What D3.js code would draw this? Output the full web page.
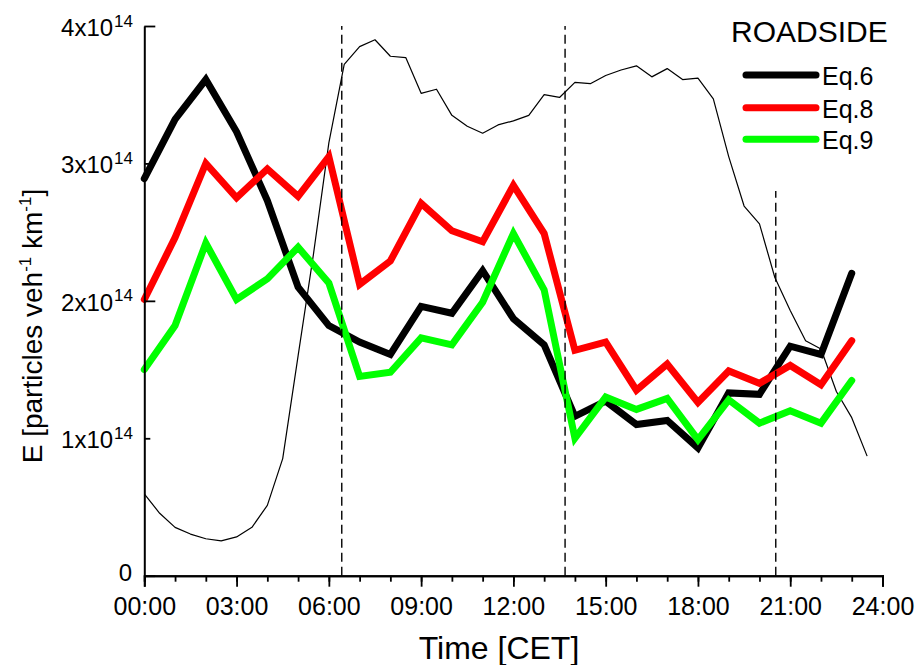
<!DOCTYPE html>
<html>
<head>
<meta charset="utf-8">
<script src="https://cdn.jsdelivr.net/npm/d3@7"></script>
<style>
  html, body { margin: 0; padding: 0; background: #fff; }
  svg { display: block; font-family: "Liberation Sans", Arial, sans-serif; }
</style>
</head>
<body>
<svg id="chart" width="916" height="665"></svg>
<script>
// Hour of day (CET) for the hourly emission factors
const hours = d3.range(0, 24);

// Emission factors E, in units of 1e14 particles veh^-1 km^-1
const eq6 = [2.89, 3.32, 3.61, 3.23, 2.73, 2.10, 1.82, 1.70, 1.61, 1.96, 1.91, 2.22,
             1.87, 1.68, 1.16, 1.27, 1.10, 1.13, 0.93, 1.33, 1.32, 1.67, 1.61, 2.20];
const eq8 = [2.01, 2.46, 3.00, 2.75, 2.96, 2.76, 3.05, 2.12, 2.29, 2.71, 2.51, 2.43,
             2.84, 2.49, 1.64, 1.70, 1.35, 1.54, 1.26, 1.49, 1.40, 1.53, 1.39, 1.71];
const eq9 = [1.50, 1.82, 2.42, 2.01, 2.16, 2.39, 2.13, 1.45, 1.48, 1.73, 1.68, 1.99,
             2.49, 2.08, 1.00, 1.30, 1.21, 1.29, 0.99, 1.28, 1.11, 1.20, 1.11, 1.42];

// Relative traffic intensity, half-hourly from 00:00 (arbitrary units)
const trafficTimes = d3.range(0, 24, 0.5);
const traffic = [0.595, 0.454, 0.352, 0.303, 0.269, 0.253, 0.282, 0.352, 0.512, 0.852,
                 1.60, 2.34, 3.15, 3.72, 3.85, 3.90, 3.78, 3.77, 3.51, 3.54,
                 3.35, 3.27, 3.22, 3.28, 3.31, 3.35, 3.50, 3.48, 3.59, 3.58,
                 3.64, 3.68, 3.71, 3.63, 3.69, 3.61, 3.62, 3.47, 3.05, 2.69,
                 2.56, 2.17, 1.93, 1.71, 1.65, 1.34, 1.15, 0.87];

// Vertical markers: time (h) and the E value their dashes reach
const markerTimes = [6.42, 13.68, 20.53];
const markerTops = [4.0, 4.0, 2.8];

// Axis ticks
const xMajorTicks = d3.range(0, 25, 3);
const xMinorTicks = d3.range(0, 25, 1);
const xTickLabels = ["00:00", "03:00", "06:00", "09:00", "12:00", "15:00", "18:00", "21:00", "24:00"];
const yTicks = [0, 1, 2, 3, 4];
const yTickMantissa = ["0", "1x10", "2x10", "3x10", "4x10"];
const yTickExponent = ["", "14", "14", "14", "14"];

const seriesNames = ["Eq.6", "Eq.8", "Eq.9"];
const seriesColors = ["#000000", "#ff0000", "#00ff00"];
const seriesValues = [eq6, eq8, eq9];

const svg = d3.select("#chart");

const x = d3.scaleLinear().domain([0, 24]).range([144.3, 882.5]);
const y = d3.scaleLinear().domain([0, 4]).range([575.7, 26]);
const yTraffic = d3.scaleLinear().domain([0, 4]).range([575.7, 26]);

// Traffic profile (thin line)
svg.append("path")
  .datum(traffic.map((v, i) => [trafficTimes[i], v]))
  .attr("fill", "none")
  .attr("stroke", "#000")
  .attr("stroke-width", 1.2)
  .attr("stroke-linejoin", "round")
  .attr("d", d3.line().x(d => x(d[0])).y(d => yTraffic(d[1])));

// Emission factor series
const line = d3.line().x(d => x(d[0])).y(d => y(d[1]));
seriesValues.forEach((vals, k) => {
  svg.append("path")
    .datum(vals.map((v, i) => [hours[i], v]))
    .attr("fill", "none")
    .attr("stroke", seriesColors[k])
    .attr("stroke-width", 7)
    .attr("stroke-linejoin", "miter")
    .attr("stroke-miterlimit", 4)
    .attr("stroke-linecap", "round")
    .attr("d", line);
});

// Dashed time markers
svg.append("g").selectAll("line")
  .data(markerTimes)
  .join("line")
  .attr("x1", d => x(d)).attr("x2", d => x(d))
  .attr("y1", y(0))
  .attr("y2", (d, i) => y(markerTops[i]))
  .attr("stroke", "#000")
  .attr("stroke-width", 1.4)
  .attr("stroke-dasharray", "9,5");

// X axis: hourly minor ticks, 3-hourly labelled ticks
const gxMinor = svg.append("g")
  .attr("transform", `translate(0,${y(0)})`)
  .call(d3.axisBottom(x).tickValues(xMinorTicks).tickSize(6).tickFormat(""));
const gx = svg.append("g")
  .attr("transform", `translate(0,${y(0)})`)
  .call(d3.axisBottom(x).tickValues(xMajorTicks).tickSize(11)
        .tickFormat((d, i) => xTickLabels[i]));
[gxMinor, gx].forEach(g => {
  g.select(".domain").attr("stroke-width", 2);
  g.selectAll(".tick line").attr("stroke-width", 1.8);
});
gx.selectAll(".tick text")
  .attr("y", 39.3).attr("dy", 0)
  .attr("font-size", 25)
  .attr("font-family", "'Liberation Sans', Arial, sans-serif")
  .attr("fill", "#000");

// Y axis: ticks pointing inward
const gy = svg.append("g")
  .attr("transform", `translate(${x(0)},0)`)
  .call(d3.axisLeft(y).tickValues(yTicks).tickSizeInner(-11).tickSizeOuter(0).tickFormat(""));
gy.select(".domain").attr("stroke-width", 2);
gy.selectAll(".tick line")
  .attr("stroke-width", 1.8)
  .attr("x2", d => (d % 2 === 0 ? 11 : 6));

const yLabels = svg.append("g")
  .attr("font-size", 24)
  .attr("text-anchor", "end")
  .attr("fill", "#000");
yTicks.forEach((v, i) => {
  const t = yLabels.append("text")
    .attr("x", yTickExponent[i] ? 133 : 132)
    .attr("y", y(v) + (yTickExponent[i] ? 10 : 5));
  t.append("tspan").text(yTickMantissa[i]);
  if (yTickExponent[i]) {
    t.append("tspan").attr("font-size", 17).attr("dx", 1).attr("dy", -9.5).text(yTickExponent[i]);
  }
});

// Axis titles
svg.append("text")
  .attr("x", 499).attr("y", 659)
  .attr("text-anchor", "middle")
  .attr("font-size", 32)
  .text("Time [CET]");

const yTitle = svg.append("text")
  .attr("transform", "translate(42,326) rotate(-90)")
  .attr("text-anchor", "middle")
  .attr("font-size", 28);
yTitle.append("tspan").text("E [particles veh");
yTitle.append("tspan").attr("font-size", 17).attr("dy", -11).text("-1");
yTitle.append("tspan").attr("dy", 11).text(" km");
yTitle.append("tspan").attr("font-size", 17).attr("dy", -11).text("-1");
yTitle.append("tspan").attr("dy", 11).text("]");

// Legend
svg.append("text")
  .attr("x", 731).attr("y", 42)
  .attr("font-size", 30)
  .text("ROADSIDE");
const legendRows = [75, 107.7, 139.3];
seriesNames.forEach((name, k) => {
  svg.append("line")
    .attr("x1", 746).attr("x2", 816)
    .attr("y1", legendRows[k]).attr("y2", legendRows[k])
    .attr("stroke", seriesColors[k])
    .attr("stroke-width", 7)
    .attr("stroke-linecap", "round");
  svg.append("text")
    .attr("x", 822).attr("y", legendRows[k] + 9.8)
    .attr("font-size", 25)
    .text(name);
});
</script>
</body>
</html>
